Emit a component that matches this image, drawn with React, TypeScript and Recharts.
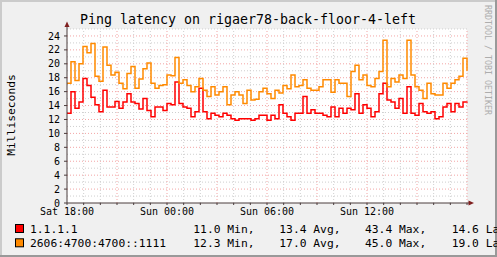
import React from "react";
import { LineChart, Line, XAxis, YAxis, CartesianGrid, ReferenceLine } from "recharts";

// sampling step (hours) of the consolidated series; 0 = Sat 18:00
const stepHours = 0.24;

// 1.1.1.1 latency (ms)
const cloudflareV4 = [
  12.9, 16.0, 13.6, 14.5, 17.9, 16.9, 15.2, 14.1, 13.1, 16.2, 13.8, 13.8, 14.6, 13.6, 14.5, 15.7, 14.5, 14.3, 13.5, 15.0, 13.3, 12.4, 13.8, 13.8, 13.3,
  14.3, 14.1, 17.4, 14.3, 13.8, 13.6, 12.4, 13.1, 16.5, 13.1, 12.1, 12.9, 12.6, 12.4, 12.9, 12.6, 12.1, 11.9, 12.1, 12.1, 12.1, 11.9, 12.1, 12.6, 12.6,
  11.9, 12.6, 12.1, 14.1, 12.9, 12.4, 11.9, 12.9, 12.9, 15.3, 12.9, 13.4, 12.9, 12.9, 12.6, 12.4, 13.8, 12.4, 13.6, 12.9, 13.6, 13.4, 15.7, 12.9, 14.1,
  13.6, 12.4, 13.1, 15.7, 17.2, 14.8, 14.5, 13.6, 15.0, 12.9, 16.7, 12.9, 12.6, 14.3, 13.1, 12.9, 13.1, 12.1, 12.4, 13.8, 14.3, 13.1, 14.3, 13.8, 14.5,
  14.6,
];

// 2606:4700:4700::1111 latency (ms)
const cloudflareV6 = [
  17.2, 20.3, 17.6, 20.0, 22.5, 21.6, 22.9, 18.2, 17.5, 22.4, 19.8, 18.4, 18.8, 17.2, 16.4, 18.6, 19.6, 16.5, 17.8, 19.3, 20.1, 17.2, 16.5, 16.9, 17.0,
  18.4, 18.3, 20.9, 17.2, 17.7, 16.9, 16.0, 16.7, 17.9, 16.2, 15.3, 16.7, 15.5, 16.0, 16.7, 14.1, 15.5, 16.0, 15.5, 14.3, 16.2, 14.8, 14.9, 16.0, 16.5,
  15.7, 15.0, 16.2, 15.8, 16.9, 16.4, 18.4, 16.7, 16.9, 17.7, 16.5, 16.2, 16.2, 16.7, 17.7, 17.7, 15.9, 17.7, 17.2, 17.2, 15.3, 18.9, 19.8, 17.7, 18.4,
  16.9, 16.7, 17.9, 18.9, 23.4, 16.7, 17.9, 17.4, 18.4, 17.9, 23.4, 18.4, 16.7, 16.2, 15.0, 17.2, 15.7, 15.5, 15.5, 17.2, 16.5, 17.2, 17.7, 18.2, 20.8,
  19.0,
];

const xLabelHours = [0, 6, 12, 18];
const xLabels = ["Sat 18:00", "Sun 00:00", "Sun 06:00", "Sun 12:00"];
const hourTicks = Array.from({ length: 25 }, (_, i) => i);
const yTicks = [0, 2, 4, 6, 8, 10, 12, 14, 16, 18, 20, 22, 24];
const yGrid = Array.from({ length: 25 }, (_, i) => i + 1);

const seriesNames = ["1.1.1.1", "2606:4700:4700::1111"];
const seriesColors = ["#FF0000", "#FF8A00"];
const statMin = ["11.0 Min,", "12.3 Min,"];
const statAvg = ["13.4 Avg,", "17.0 Avg,"];
const statMax = ["43.4 Max,", "45.0 Max,"];
const statLast = ["14.6 Last", "19.0 Last"];

const data = cloudflareV4.map((v, i) => ({ t: +(i * stepHours).toFixed(2), a: v, b: cloudflareV6[i] }));

const MONO = "'DejaVu Sans Mono', monospace";
const W = 497;
const H = 257;

function XTick(props: any) {
  const { x, y, payload } = props;
  const idx = xLabelHours.indexOf(payload.value);
  if (idx < 0) return <g />;
  return (
    <text x={x} y={y} dy={8} textAnchor="middle" fontFamily={MONO} fontSize={10} fill="#000">
      {xLabels[idx]}
    </text>
  );
}

export default function App() {
  const legendCols = [30, 193.3, 279.3, 365, 451.7];
  const rowBase = [233, 247.3];
  return (
    <div style={{ position: "absolute", left: 0, top: 0, width: W, height: H, overflow: "hidden" }}>
      <svg width={W} height={H} style={{ position: "absolute", left: 0, top: 0 }}>
        <rect x={0} y={0} width={W} height={H} fill="#F0F0F0" />
        <rect x={0} y={0} width={W} height={2} fill="#CBCBCB" />
        <rect x={0} y={0} width={2} height={H} fill="#CBCBCB" />
        <rect x={W - 2} y={0} width={2} height={H} fill="#999999" />
        <rect x={0} y={H - 2} width={W} height={2} fill="#999999" />
        <text x={248} y={24} textAnchor="middle" fontFamily={MONO} fontSize={13.3} fill="#000">
          Ping latency on rigaer78-back-floor-4-left
        </text>
        <text
          x={0}
          y={0}
          transform="translate(15,115) rotate(-90)"
          textAnchor="middle"
          fontFamily={MONO}
          fontSize={11.3}
          fill="#000"
        >
          Milliseconds
        </text>
        <text
          x={0}
          y={0}
          transform="translate(484.5,60) rotate(90)"
          textAnchor="middle"
          fontFamily={MONO}
          fontSize={8.3}
          fill="#ADADAD"
        >
          RRDTOOL / TOBI OETIKER
        </text>
        {seriesNames.map((n, r) => (
          <g key={n}>
            <rect x={15.5} y={rowBase[r] - 8.5} width={8} height={8} fill={seriesColors[r]} stroke="#000" strokeWidth={1} />
            <text x={legendCols[0]} y={rowBase[r]} fontFamily={MONO} fontSize={11.3} fill="#000">{n}</text>
            <text x={legendCols[1]} y={rowBase[r]} fontFamily={MONO} fontSize={11.3} fill="#000">{statMin[r]}</text>
            <text x={legendCols[2]} y={rowBase[r]} fontFamily={MONO} fontSize={11.3} fill="#000">{statAvg[r]}</text>
            <text x={legendCols[3]} y={rowBase[r]} fontFamily={MONO} fontSize={11.3} fill="#000">{statMax[r]}</text>
            <text x={legendCols[4]} y={rowBase[r]} fontFamily={MONO} fontSize={11.3} fill="#000">{statLast[r]}</text>
          </g>
        ))}
      </svg>
      <div style={{ position: "absolute", left: 0, top: 0 }}>
        <LineChart width={W} height={H} data={data} margin={{ top: 29, right: 30, bottom: 24, left: 27 }}>
          <CartesianGrid fill="#FFFFFF" horizontal={false} vertical={false} />
          {yGrid.map((v) => (
            <ReferenceLine
              key={"y" + v}
              y={v}
              stroke={v % 2 === 0 ? "#F3A5A5" : "#CFCFCF"}
              strokeDasharray="1 2"
              strokeWidth={1}
            />
          ))}
          {hourTicks.slice(1).map((h) => (
            <ReferenceLine
              key={"x" + h}
              x={h}
              stroke={h % 3 === 0 ? "#F3A5A5" : "#CFCFCF"}
              strokeDasharray="1 2"
              strokeWidth={1}
            />
          ))}
          <XAxis
            type="number"
            dataKey="t"
            domain={[0, 24]}
            ticks={hourTicks}
            interval={0}
            height={30}
            tickSize={2}
            tickMargin={2}
            axisLine={{ stroke: "#4A3C3C" }}
            tickLine={{ stroke: "#4A3C3C" }}
            tick={<XTick />}
          />
          <YAxis
            type="number"
            domain={[0, 25]}
            ticks={yTicks}
            interval={0}
            width={40}
            tickSize={3}
            tickMargin={4}
            axisLine={{ stroke: "#4A3C3C" }}
            tickLine={{ stroke: "#4A3C3C" }}
            tick={{ fontFamily: MONO, fontSize: 10, fill: "#000" }}
          />
          <Line type="stepAfter" dataKey="a" stroke={seriesColors[0]} strokeWidth={1.5} dot={false} isAnimationActive={false} />
          <Line type="stepAfter" dataKey="b" stroke={seriesColors[1]} strokeWidth={1.5} dot={false} isAnimationActive={false} />
        </LineChart>
      </div>
      <svg width={W} height={H} style={{ position: "absolute", left: 0, top: 0, pointerEvents: "none" }}>
        <line x1={67} y1={29} x2={67} y2={25} stroke="#4A3C3C" />
        <polygon points="64.5,27 69.5,27 67,21.5" fill="#7F1F1F" />
        <line x1={467} y1={203} x2={469} y2={203} stroke="#4A3C3C" />
        <polygon points="468.5,200.5 468.5,205.5 474,203" fill="#7F1F1F" />
      </svg>
    </div>
  );
}
